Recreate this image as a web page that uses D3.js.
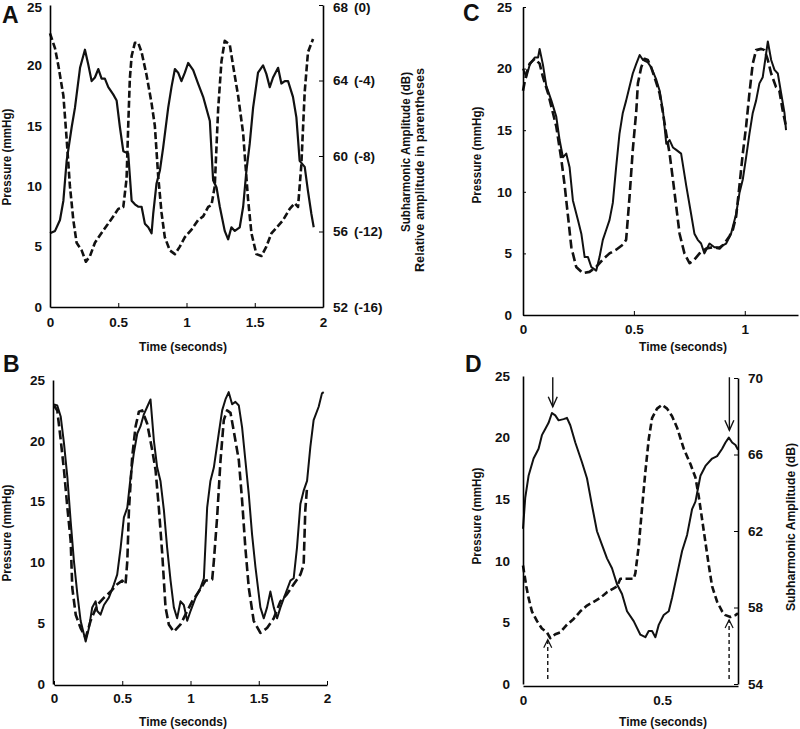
<!DOCTYPE html>
<html><head><meta charset="utf-8">
<script src="https://cdn.jsdelivr.net/npm/d3@7"></script>
<style>body{margin:0;background:#fff} svg text{font-family:"Liberation Sans",Arial,sans-serif;fill:#111}</style>
</head><body><svg id="c" width="800" height="729"></svg>
<script>
// ---------- Panel A ----------
const aPressTime = [0,.037,.073,.098,.122,.159,.183,.220,.256,.280,.305,.329,.354,.378,.402,.427,.463,.488,.512,.537,.573,.598,.622,.646,.671,.695,.720,.744,.756,.780,.805,.829,.866,.890,.915,.939,.963,.988,1.012,1.049,1.085,1.122,1.171,1.195,1.220,1.244,1.280,1.305,1.329,1.354,1.390,1.415,1.439,1.463,1.488,1.524,1.561,1.585,1.610,1.634,1.671,1.695,1.720,1.744,1.780,1.805,1.829,1.866,1.890,1.915,1.932];
const aPressure = [6.1,6.3,7.2,8.8,12.1,14.9,16.5,19.8,21.3,20.1,18.7,19.0,19.7,18.9,18.9,18.2,17.6,17.1,14.9,12.9,12.7,8.8,8.5,8.3,8.3,6.9,6.6,6.1,7.7,10.2,11.3,13.2,16.5,18.2,19.7,19.4,18.7,19.4,20.2,19.6,18.5,17.4,15.4,10.5,9.9,8.3,6.3,5.6,6.6,6.3,6.6,8.3,11.3,13.5,16.5,19.4,20.0,19.3,18.2,19.0,19.8,18.5,18.7,18.7,17.4,15.7,12.1,11.6,9.6,7.7,6.6];
const aSubTime = [0,.037,.061,.098,.122,.146,.171,.195,.232,.263,.293,.329,.366,.415,.463,.500,.537,.561,.573,.585,.598,.622,.646,.671,.707,.744,.768,.793,.817,.841,.878,.915,.951,.988,1.037,1.085,1.122,1.159,1.183,1.207,1.232,1.256,1.280,1.317,1.341,1.378,1.415,1.451,1.476,1.512,1.549,1.585,1.622,1.671,1.707,1.756,1.793,1.817,1.841,1.866,1.890,1.927];
const aSubDb = [66.5,65.7,64.8,63.2,60.9,58.4,56.6,55.4,55.0,54.4,54.7,55.4,55.8,56.3,56.8,57.2,57.3,58.8,61.6,64.1,65.3,66.0,66.0,65.5,64.3,62.8,61.6,58.9,57.0,55.7,55.0,54.8,55.2,55.7,56.1,56.6,56.8,57.3,57.4,58.4,62.5,65.0,66.1,65.9,64.8,63.2,61.2,57.7,55.9,54.8,54.7,55.2,55.9,56.3,56.6,57.2,57.5,57.3,59.5,63.4,65.5,66.2];

// ---------- Panel B ----------
const bSolidTime = [0,.024,.049,.073,.098,.122,.146,.171,.195,.232,.256,.280,.305,.317,.341,.366,.402,.439,.463,.488,.512,.537,.561,.585,.610,.634,.659,.683,.707,.732,.756,.780,.805,.829,.854,.878,.902,.927,.951,.976,1.000,1.037,1.073,1.098,1.122,1.146,1.171,1.207,1.232,1.256,1.280,1.305,1.329,1.354,1.378,1.402,1.427,1.451,1.476,1.512,1.537,1.561,1.585,1.610,1.634,1.659,1.695,1.732,1.756,1.780,1.805,1.829,1.854,1.878,1.902,1.939,1.963,1.976];
const bSolid = [23.0,22.9,22.0,19.8,17.0,13.4,10.1,7.4,5.2,3.5,4.6,6.3,6.8,6.0,5.7,6.5,7.1,8.2,9.0,11.2,13.7,14.5,17.0,19.0,20.6,21.2,22.2,22.8,23.4,20.0,17.8,16.7,14.3,11.2,8.5,6.3,5.4,6.8,6.5,5.2,6.0,7.1,7.9,8.7,14.5,16.7,17.8,20.6,22.5,23.4,24.0,23.0,23.2,22.9,21.1,18.4,15.6,12.3,9.6,6.3,5.4,6.3,7.6,6.3,5.4,6.3,7.4,8.5,8.7,11.2,14.8,15.9,16.7,19.5,21.7,22.8,23.9,24.0];
const bDashTime = [0,.024,.049,.073,.098,.122,.134,.159,.195,.232,.268,.317,.366,.415,.463,.500,.524,.537,.549,.573,.598,.622,.646,.683,.720,.744,.768,.793,.817,.841,.878,.927,.963,1.012,1.061,1.110,1.159,1.171,1.195,1.220,1.244,1.268,1.293,1.317,1.354,1.378,1.402,1.427,1.463,1.512,1.561,1.610,1.659,1.707,1.756,1.805,1.829,1.841,1.854];
const bDash = [22.9,22.5,20.1,17.6,14.5,11.8,7.9,5.7,4.6,3.8,5.2,6.5,7.1,7.6,8.2,8.5,8.2,10.1,14.3,18.7,21.2,22.4,22.5,21.4,19.2,17.6,14.5,10.7,6.3,4.9,4.3,4.9,5.7,6.8,7.6,8.5,8.6,10.1,13.7,18.4,21.7,22.5,22.3,20.8,18.4,15.1,11.2,7.9,5.2,4.2,4.6,5.4,6.8,7.4,8.2,9.0,9.8,14.3,16.2];

// ---------- Panel C ----------
const cSolidTime = [0,.015,.030,.053,.068,.075,.090,.105,.128,.150,.165,.180,.195,.210,.225,.248,.263,.278,.293,.308,.330,.345,.360,.375,.390,.405,.420,.435,.450,.465,.480,.495,.511,.526,.541,.563,.578,.601,.616,.631,.646,.661,.676,.691,.713,.736,.758,.773,.788,.803,.818,.841,.863,.886,.916,.938,.961,.976,.991,1.006,1.021,1.036,1.051,1.066,1.081,1.096,1.104,1.119,1.134,1.149,1.164,1.179,1.186];
const cSolid = [20.0,19.3,20.3,20.9,20.9,21.6,20.3,18.6,17.4,16.1,14.2,12.8,13.1,12.0,9.3,7.7,6.6,4.7,4.7,3.9,3.6,4.7,6.1,6.9,7.7,9.1,12.0,14.7,16.4,17.4,18.5,19.6,20.4,21.1,20.7,20.5,20.1,19.1,18.2,16.6,13.9,14.2,13.6,13.4,13.1,10.5,8.2,6.6,6.1,5.8,5.0,5.8,5.5,5.5,5.8,6.6,8.2,9.9,11.0,12.8,14.7,16.4,17.4,18.8,19.3,21.2,22.2,20.7,19.9,19.6,18.0,16.4,15.0];
const cDashTime = [0,.015,.030,.053,.075,.090,.113,.135,.150,.173,.188,.203,.218,.240,.270,.300,.330,.360,.390,.420,.450,.465,.480,.495,.511,.518,.533,.548,.563,.578,.593,.616,.631,.646,.661,.676,.691,.706,.728,.751,.773,.796,.826,.856,.886,.908,.931,.946,.961,.976,.991,1.006,1.021,1.036,1.051,1.074,1.089,1.104,1.119,1.141,1.156,1.171,1.186];
const cDash = [18.2,19.6,20.4,20.8,20.4,19.3,18.0,16.4,15.3,12.6,10.5,8.0,5.5,3.9,3.4,3.5,3.9,4.5,5.0,5.3,5.7,6.1,9.5,13.4,16.6,18.8,20.1,20.8,20.7,20.1,19.3,18.0,16.4,14.7,13.1,11.0,8.8,6.6,5.0,4.2,4.5,5.0,5.4,5.5,5.4,5.8,6.4,6.9,8.0,10.5,13.1,15.3,18.0,20.4,21.5,21.6,21.5,20.7,19.6,18.5,18.2,16.6,15.3];

// ---------- Panel D ----------
const dPressTime = [0,.008,.020,.038,.056,.068,.080,.092,.104,.116,.128,.146,.158,.170,.188,.212,.230,.248,.266,.284,.302,.320,.338,.356,.374,.398,.422,.440,.452,.464,.476,.488,.506,.524,.536,.554,.572,.590,.608,.620,.638,.656,.680,.698,.716,.728,.740,.752,.764,.773];
const dPressure = [12.6,15.1,16.9,18.3,19.1,20.2,20.7,21.2,22.0,21.8,21.4,21.5,21.6,21.0,19.6,18.0,16.7,14.5,12.4,11.3,10.2,9.4,8.1,7.3,5.9,5.1,4.0,3.8,4.3,4.3,3.8,4.8,5.6,5.9,7.0,8.9,10.8,12.1,14.2,14.8,16.9,17.7,18.3,18.5,19.1,19.6,20.0,19.6,19.4,19.0];
const dSubTime = [0,.012,.020,.032,.050,.068,.086,.098,.116,.134,.158,.182,.206,.230,.254,.278,.302,.326,.338,.350,.374,.398,.404,.416,.428,.440,.452,.464,.482,.500,.518,.536,.554,.578,.602,.620,.632,.644,.656,.668,.680,.698,.716,.728,.746,.764,.773];
const dSubDb = [60.2,59.1,58.5,57.8,57.3,56.9,56.7,56.4,56.6,56.7,57.1,57.4,57.8,58.1,58.3,58.5,58.8,59.0,59.1,59.5,59.5,59.5,59.8,61.2,63.2,65.1,66.8,67.9,68.4,68.6,68.4,68.0,67.4,66.3,65.5,64.8,63.8,62.6,61.4,60.2,59.1,58.3,57.8,57.6,57.5,57.6,57.7];
// arrows in D (time, from pressure, to pressure)
const dDownArrowTime = [0.107, 0.742];
const dDownArrowFrom = [24.9, 24.9];
const dDownArrowTo = [22.5, 20.6];
const dUpArrowTime = [0.089, 0.741];
const dUpArrowFrom = [0.4, 0.4];
const dUpArrowTo = [3.6, 5.2];

// ---------- ticks ----------
const pressureTicks = [0,5,10,15,20,25];
const timeTicks2 = [0,0.5,1,1.5,2];
const timeTicksC = [0,0.5,1];
const timeTicksD = [0,0.5];
const aDbTicks = [52,56,60,64,68];
const aRelTicks = ["(-16)","(-12)","(-8)","(-4)","(0)"];
const dDbTicks = [54,58,62,66,70];

const svg = d3.select('#c');
svg.append('rect').attr('width',800).attr('height',729).attr('fill','#fff');

function styleAxis(g){
  g.select('.domain').attr('stroke','#000').attr('stroke-width',1.6);
  g.selectAll('.tick line').attr('stroke','#000').attr('stroke-width',1);
  g.selectAll('.tick text').attr('font-size',13.5).attr('font-weight','bold')
    .attr('font-family','"Liberation Sans",Arial,sans-serif').attr('fill','#111');
}
function leftAxis(y, x0, ticks, pad, tl){
  const g = svg.append('g').attr('transform',`translate(${x0},0)`)
    .call(d3.axisLeft(y).tickValues(ticks).tickSizeInner(-tl).tickSizeOuter(0).tickPadding(pad).tickFormat(d=>String(d)));
  styleAxis(g); return g;
}
function rightAxis(y, x0, ticks, pad, tl){
  const g = svg.append('g').attr('transform',`translate(${x0},0)`)
    .call(d3.axisRight(y).tickValues(ticks).tickSizeInner(-tl).tickSizeOuter(0).tickPadding(pad).tickFormat(d=>String(d)));
  styleAxis(g); return g;
}
function bottomAxis(x, y0, ticks, pad, tl){
  const g = svg.append('g').attr('transform',`translate(0,${y0})`)
    .call(d3.axisBottom(x).tickValues(ticks).tickSizeInner(-tl).tickSizeOuter(0).tickPadding(pad).tickFormat(d=>String(d)));
  styleAxis(g); return g;
}
function drawLine(x, y, ts, vs, dashed, w){
  const line = d3.line().x(d=>x(d[0])).y(d=>y(d[1]));
  svg.append('path').datum(d3.zip(ts, vs)).attr('d', line)
    .attr('fill','none').attr('stroke','#111').attr('stroke-width', w)
    .attr('stroke-linejoin','round')
    .attr('stroke-dasharray', dashed ? dashed : null);
}
function vTitle(text, x, y, len){
  svg.append('text').attr('transform',`translate(${x},${y}) rotate(-90)`)
    .attr('text-anchor','middle').attr('font-size',12).attr('font-weight','bold')
    .attr('textLength', len).attr('lengthAdjust','spacingAndGlyphs').text(text);
}
function hTitle(text, x, y, len){
  svg.append('text').attr('x',x).attr('y',y).attr('text-anchor','middle')
    .attr('font-size',12).attr('font-weight','bold')
    .attr('textLength', len).attr('lengthAdjust','spacingAndGlyphs').text(text);
}
function letter(t, x, y){
  svg.append('text').attr('x',x).attr('y',y).attr('font-size',23).attr('font-weight','bold').text(t);
}
// nudge labels that would touch the top edge
function nudgeTop(g){
  g.selectAll('.tick').filter(function(){
    const m = /translate\([^,]+,([^)]+)\)/.exec(this.getAttribute('transform'));
    return m && +m[1] < 7;
  }).selectAll('text').attr('y', 2.5);
}

// ===== Panel A =====
{
  const x = d3.scaleLinear([0,2],[50,323]);
  const y = d3.scaleLinear([0,25],[307,5]);
  const yR = d3.scaleLinear([52,68],[307,5]);
  drawLine(x, y, aPressTime, aPressure, null, 2.2);
  drawLine(x, yR, aSubTime, aSubDb, '7,3', 2.6);
  const l = leftAxis(y, 50, pressureTicks, 8, 0);
  bottomAxis(x, 307, timeTicks2, 10, 4);
  const r = rightAxis(yR, 323, aDbTicks, 10, 4);
  r.selectAll('.tick').append('text').attr('x',31).attr('dy','0.32em')
    .attr('font-size',13.5).attr('font-weight','bold').attr('fill','#111')
    .text((d,i)=>aRelTicks[i]);
  nudgeTop(l); nudgeTop(r);
  vTitle('Pressure (mmHg)', 11, 157, 97);
  hTitle('Time (seconds)', 183, 351, 88);
  vTitle('Subharmonic Amplitude (dB)', 410, 152, 160);
  vTitle('Relative amplitude in parentheses', 424, 170, 204);
  letter('A', 2, 23);
}
// ===== Panel B =====
{
  const x = d3.scaleLinear([0,2],[54,327]);
  const y = d3.scaleLinear([0,25],[684,380]);
  drawLine(x, y, bSolidTime, bSolid, null, 2);
  drawLine(x, y, bDashTime, bDash, '9,4', 2.6);
  leftAxis(y, 53, pressureTicks, 8, 0);
  bottomAxis(x, 685, timeTicks2, 8, 4);
  vTitle('Pressure (mmHg)', 11, 533, 97);
  hTitle('Time (seconds)', 183, 726, 88);
  letter('B', 3, 372);
}
// ===== Panel C =====
{
  const x = d3.scaleLinear([0,1.24],[523,798]);
  const y = d3.scaleLinear([0,25],[315,7]);
  drawLine(x, y, cSolidTime, cSolid, null, 2);
  drawLine(x, y, cDashTime, cDash, '9,4', 2.6);
  leftAxis(y, 523, pressureTicks, 11, 3);
  bottomAxis(x, 315, timeTicksC, 9, 4);
  vTitle('Pressure (mmHg)', 481, 155, 97);
  hTitle('Time (seconds)', 683, 351, 88);
  letter('C', 463, 21);
}
// ===== Panel D =====
{
  const x = d3.scaleLinear([0,0.773],[523,738]);
  const y = d3.scaleLinear([0,25],[684,376]);
  const yR = d3.scaleLinear([54,70],[684,378]);
  drawLine(x, y, dPressTime, dPressure, null, 2);
  drawLine(x, yR, dSubTime, dSubDb, '7,3.5', 2.6);
  leftAxis(y, 523, pressureTicks, 13, 0);
  rightAxis(yR, 738, dDbTicks, 10, 4);
  bottomAxis(x, 686, timeTicksD, 9, 0);
  vTitle('Pressure (mmHg)', 481, 516, 97);
  vTitle('Subharmonic Amplitude (dB)', 795, 527, 168);
  hTitle('Time (seconds)', 663, 726, 88);
  letter('D', 465, 372);
  // arrows
  dDownArrowTime.forEach((t,i)=>{
    const ax = x(t), y1 = y(dDownArrowFrom[i]), y2 = y(dDownArrowTo[i]);
    svg.append('line').attr('x1',ax).attr('x2',ax).attr('y1',y1).attr('y2',y2)
      .attr('stroke','#111').attr('stroke-width',1.4);
    svg.append('path').attr('d',`M${ax-4.5},${y2-10}L${ax},${y2}L${ax+4.5},${y2-10}`)
      .attr('fill','none').attr('stroke','#111').attr('stroke-width',1.4);
  });
  dUpArrowTime.forEach((t,i)=>{
    const ax = x(t), y1 = y(dUpArrowFrom[i]), y2 = y(dUpArrowTo[i]);
    svg.append('line').attr('x1',ax).attr('x2',ax).attr('y1',y1).attr('y2',y2)
      .attr('stroke','#111').attr('stroke-width',1.4).attr('stroke-dasharray','4,3');
    svg.append('path').attr('d',`M${ax-4},${y2+8}L${ax},${y2}L${ax+4},${y2+8}`)
      .attr('fill','none').attr('stroke','#111').attr('stroke-width',1.2);
  });
}
</script></body></html>
